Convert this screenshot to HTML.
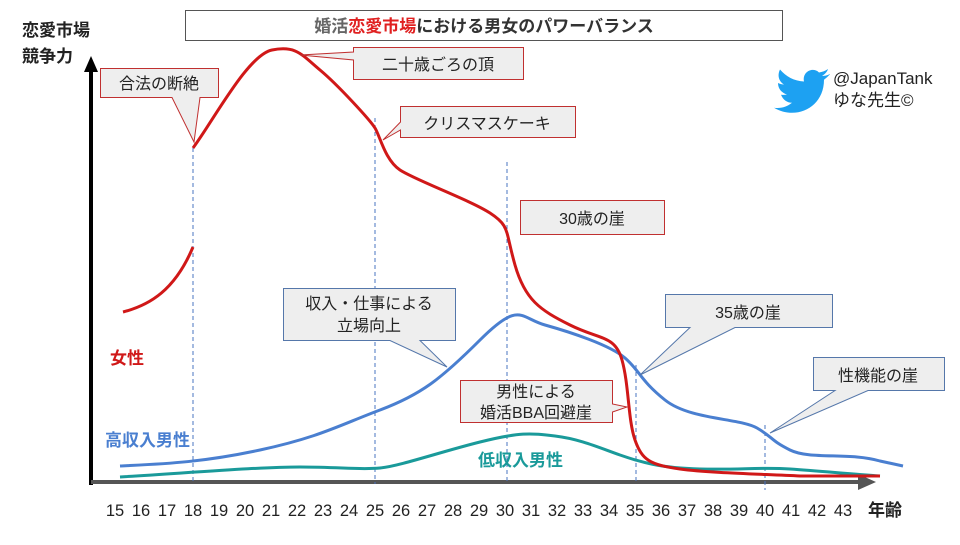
<!DOCTYPE html>
<html><head><meta charset="utf-8"><style>
body{margin:0;background:#fff}
svg text{font-family:"Liberation Sans","Noto Sans CJK JP",sans-serif}
</style></head><body>
<svg width="960" height="540" viewBox="0 0 960 540" xmlns="http://www.w3.org/2000/svg">
<rect width="960" height="540" fill="#fff"/>
<rect x="185.5" y="10.5" width="597" height="30" fill="#fff" stroke="#555"/>
<text x="484" y="32" font-size="17" font-weight="bold" text-anchor="middle" fill="#333"><tspan fill="#666">婚活</tspan><tspan fill="#e02020">恋愛市場</tspan>における男女のパワーバランス</text>
<text x="22" y="36" font-size="17" font-weight="bold" fill="#222">恋愛市場</text>
<text x="22" y="62" font-size="17" font-weight="bold" fill="#222">競争力</text>
<line x1="91" y1="485" x2="91" y2="70" stroke="#000" stroke-width="4"/>
<polygon points="91,56 84,72 98,72" fill="#000"/>
<line x1="91" y1="482" x2="865" y2="482" stroke="#555" stroke-width="4"/>
<polygon points="876,482 858,474 858,490" fill="#555"/>
<g stroke="#4a74c0" stroke-width="1" stroke-dasharray="4,3">
<line x1="193" y1="148" x2="193" y2="484"/>
<line x1="375" y1="118" x2="375" y2="484"/>
<line x1="507" y1="162" x2="507" y2="484"/>
<line x1="636" y1="365" x2="636" y2="484"/>
<line x1="765" y1="425" x2="765" y2="490"/>
</g>
<g font-size="16.5" fill="#222" text-anchor="middle">
<text x="115" y="516">15</text><text x="141" y="516">16</text><text x="167" y="516">17</text><text x="193" y="516">18</text><text x="219" y="516">19</text><text x="245" y="516">20</text><text x="271" y="516">21</text><text x="297" y="516">22</text><text x="323" y="516">23</text><text x="349" y="516">24</text><text x="375" y="516">25</text><text x="401" y="516">26</text><text x="427" y="516">27</text><text x="453" y="516">28</text><text x="479" y="516">29</text><text x="505" y="516">30</text><text x="531" y="516">31</text><text x="557" y="516">32</text><text x="583" y="516">33</text><text x="609" y="516">34</text><text x="635" y="516">35</text><text x="661" y="516">36</text><text x="687" y="516">37</text><text x="713" y="516">38</text><text x="739" y="516">39</text><text x="765" y="516">40</text><text x="791" y="516">41</text><text x="817" y="516">42</text><text x="843" y="516">43</text>
</g>
<text x="868" y="516" font-size="17" font-weight="bold" fill="#222">年齢</text>
<path d="M120,466 C160,464 200,463 260,450 S340,425 380,410 S440,380 480,340 S520,318 545,325 S610,345 625,358 S640,380 665,400 S740,418 757,428 S770,440 790,450 S850,452 880,461 L903,466" fill="none" stroke="#4a7fd0" stroke-width="3"/>
<path d="M120,477 C200,472 260,467 300,467 S360,470 380,468 S440,452 480,442 S530,433 555,436 S600,448 620,455 S660,468 700,469 S760,467 790,469 S850,474 880,476" fill="none" stroke="#1a9a9a" stroke-width="3"/>
<path d="M123,312 C150,305 175,290 193,247" fill="none" stroke="#d01818" stroke-width="3"/>
<path d="M193,148 C215,118 248,55 272,50 S302,55 320,70 S370,120 375,128 S385,160 400,170 S470,200 490,213 S505,230 515,265 S540,310 570,325 S615,335 622,360 S628,420 635,440 S650,465 680,469 S760,474 800,476 L880,476" fill="none" stroke="#d01818" stroke-width="3"/>
<text x="110" y="364" font-size="17" font-weight="bold" fill="#d01818">女性</text>
<text x="105" y="446" font-size="17" font-weight="bold" fill="#4a7fd0">高収入男性</text>
<text x="478" y="466" font-size="17" font-weight="bold" fill="#1a9a9a">低収入男性</text>
<g fill="#eeeeee" stroke="#c03030" stroke-width="1">
<path d="M100.5,68.5 H218.5 V97.5 H200 L194,142 L172,97.5 H100.5 Z"/>
<path d="M353.5,47.5 H523.5 V79.5 H353.5 V60 L300,55 L353.5,52 Z"/>
<path d="M400.5,106.5 H575.5 V137.5 H400.5 V130 L383,140 L400.5,122 Z"/>
<rect x="520.5" y="200.5" width="144" height="34"/>
<path d="M460.5,380.5 H612.5 V404 L627,407 L612.5,412 V422.5 H460.5 Z"/>
</g>
<g fill="#eeeeee" stroke="#5577aa" stroke-width="1">
<path d="M283.5,288.5 H455.5 V340.5 H420 L447,367 L390,340.5 H283.5 Z"/>
<path d="M665.5,294.5 H832.5 V327.5 H735 L640,375 L690,327.5 H665.5 Z"/>
<path d="M813.5,357.5 H944.5 V390.5 H868 L770,433 L835,390.5 H813.5 Z"/>
</g>
<g font-size="16" fill="#222" text-anchor="middle">
<text x="159" y="89">合法の断絶</text>
<text x="438" y="70">二十歳ごろの頂</text>
<text x="487" y="129">クリスマスケーキ</text>
<text x="592" y="224">30歳の崖</text>
<text x="369" y="309">収入・仕事による</text>
<text x="369" y="331">立場向上</text>
<text x="748" y="318">35歳の崖</text>
<text x="878" y="381">性機能の崖</text>
<text x="536" y="397">男性による</text>
<text x="536" y="418">婚活BBA回避崖</text>
</g>
<path d="M830,74 c-3,1.5 -6,2 -8,2 c3,-2 5,-4 6,-7 c-3,2 -6,3 -9,3.5 c-6,-6 -17,-1 -15,9 c-10,-0.5 -18,-5 -24,-12 c-3,6 -1,12 4,15 c-2,0 -4,-0.5 -6,-1.5 c0,6 4,10 9,11.5 c-2,0.5 -4,0.5 -6,0.2 c2,5 6,8 11,8 c-5,4 -11,6 -18,5 c22,13 50,0 50,-28 c2,-1.5 4,-3.5 6,-5.5 Z" fill="#1da1f2"/>
<text x="833" y="84" font-size="17" fill="#222">@JapanTank</text>
<text x="833" y="106" font-size="17" fill="#222">ゆな先生©</text>
</svg>
</body></html>
